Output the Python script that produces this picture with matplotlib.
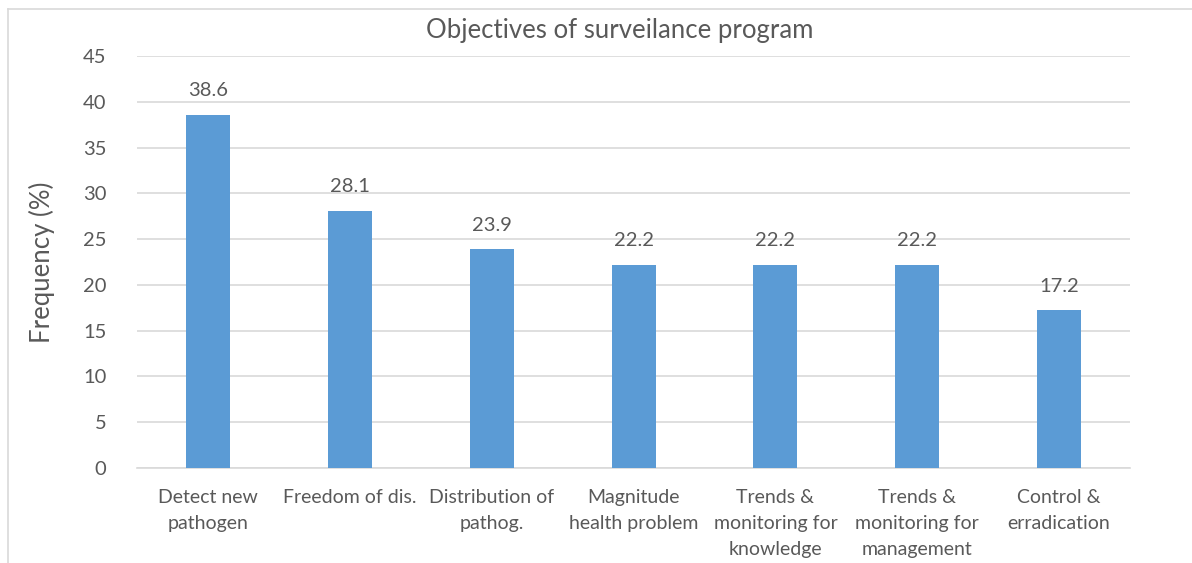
import matplotlib.pyplot as plt
from matplotlib.lines import Line2D

# Chart data
categories = ['Detect new\npathogen', 'Freedom of dis.', 'Distribution of\npathog.',
              'Magnitude\nhealth problem', 'Trends &\nmonitoring for\nknowledge',
              'Trends &\nmonitoring for\nmanagement', 'Control &\nerradication']
values = [38.6, 28.1, 23.9, 22.2, 22.2, 22.2, 17.2]
y_ticks = [0, 5, 10, 15, 20, 25, 30, 35, 40, 45]

text_color = '#595959'
bar_color = '#5B9BD5'
grid_color = '#D9D9D9'

plt.rcParams['font.family'] = ['Lato', 'DejaVu Sans']

fig = plt.figure(figsize=(11.92, 5.63), dpi=100)
ax = fig.add_axes([0.115, 0.169, 0.833, 0.7315])

x = list(range(len(categories)))
bars = ax.bar(x, values, width=0.31, color=bar_color, zorder=3)

# Value labels above bars
for xi, v in zip(x, values):
    ax.text(xi, v + 1.7, f'{v:.1f}', ha='center', va='bottom',
            fontsize=14.5, color=text_color)

ax.set_xlim(-0.5, len(categories) - 0.5)
ax.set_ylim(0, 45)
ax.set_yticks(y_ticks)
ax.set_xticks(x)
ax.set_xticklabels(categories, linespacing=1.65)
ax.tick_params(axis='y', length=0, pad=22, labelsize=14.5, labelcolor=text_color)
ax.tick_params(axis='x', length=0, pad=15, labelsize=14, labelcolor=text_color)

ax.yaxis.grid(True, color=grid_color, linewidth=1.2, zorder=0)
for side in ['top', 'right', 'left']:
    ax.spines[side].set_visible(False)
ax.spines['bottom'].set_color(grid_color)
ax.spines['bottom'].set_linewidth(1.2)

ax.set_ylabel('Frequency (%)', fontsize=18.5, color=text_color, labelpad=20)
fig.text(0.52, 0.945, 'Objectives of surveilance program', ha='center', va='center',
         fontsize=18.5, color=text_color)

# Outer frame (top and left edges)
fig.add_artist(Line2D([8 / 1192, 1], [1 - 9 / 563, 1 - 9 / 563],
                      transform=fig.transFigure, color=grid_color, linewidth=1.2))
fig.add_artist(Line2D([8 / 1192, 8 / 1192], [0, 1 - 9 / 563],
                      transform=fig.transFigure, color=grid_color, linewidth=1.2))

fig.savefig('out.png', dpi=100)
